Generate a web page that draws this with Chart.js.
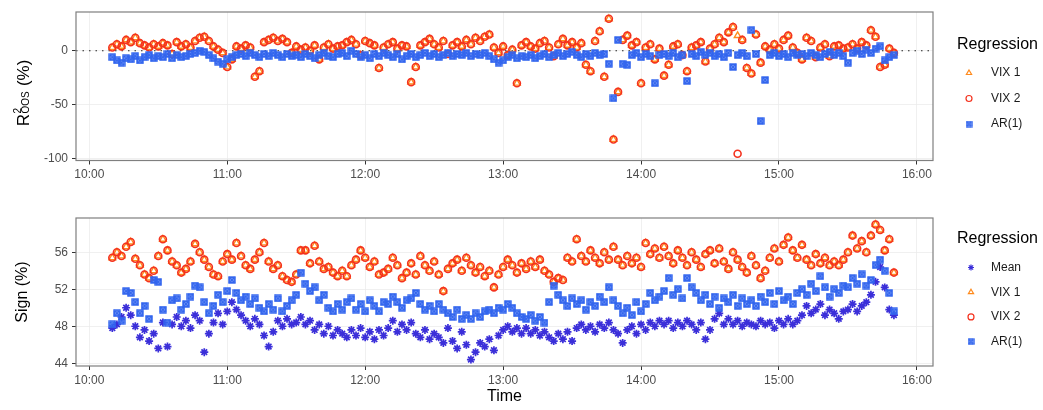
<!DOCTYPE html>
<html>
<head>
<meta charset="utf-8">
<script src="https://cdn.jsdelivr.net/npm/chart.js@4.4.1/dist/chart.umd.min.js"></script>
<style>
  html, body { margin: 0; padding: 0; background: #fff; }
  #wrap { position: relative; width: 1043px; height: 410px; }
  .panel { position: absolute; left: 0; }
  #top { top: 0; }
  #bottom { top: 200px; }
</style>
</head>
<body>
<div id="wrap">
  <div class="panel" id="top"><canvas id="r2-chart" width="1043" height="200"></canvas></div>
  <div class="panel" id="bottom"><canvas id="sign-chart" width="1043" height="210"></canvas></div>
</div>
<script>
// one observation every 2 minutes, 10:10 -> 15:50
const firstMinute = 10 * 60 + 10;
const minuteStep = 2;

const hourTicks = [600, 660, 720, 780, 840, 900, 960];
const hourLabels = ['10:00', '11:00', '12:00', '13:00', '14:00', '15:00', '16:00'];
const r2Ticks = [-100, -50, 0];
const signTicks = [44, 48, 52, 56];

// R2 OOS (%)
const r2Vix1 = [
  3, 6, 4, 10, 8, 12, 7, 5, 3, 6,
  4, 7, 5, -3, 8, 4, 6, 3, 9, 12,
  13, 9, 4, 1, -2, -15, -8, 4, 2, 5,
  3, -24, -19, 8, 10, 12, 9, 11, 8, -2,
  4, 1, 3, 0, 5, -8, 3, 6, 2, 4,
  5, 8, 10, 6, -4, 9, 7, 5, -16, 3,
  6, 8, 2, 5, 4, -29, -15, 5, 8, 11,
  6, 3, 9, -3, 5, 8, 4, 10, 6, 12,
  9, 13, 15, 3, -2, 4, -4, 1, -30, 5,
  8, 4, 2, 7, 9, 3, -5, 6, 11, 5,
  8, 3, 7, -13, -19, 9, 18, -24, 29.5, -82,
  -38, 10, 14, 5, 8, -30, 3, 6, -8, 2,
  -23, -13, 4, 6, -4, -19, 3, 5, 8, -10,
  2, 6, 12, 8, 17, 22, 14, 10, -16, -21,
  15, -11, 4, 1, 6, 2, 10, 14, 3, -2,
  -8, 12, 9, -6, 3, 6, -5, 4, 5, 2,
  3, 6, 2, 8, 5, 19, 13, -15, -13, 2,
  -2
];
const r2Vix2 = [
  3, 6, 4, 10, 8, 12, 7, 5, 3, 6,
  4, 7, 5, -3, 8, 4, 6, 3, 9, 12,
  13, 9, 4, 1, -2, -15, -8, 4, 2, 5,
  3, -24, -19, 8, 10, 12, 9, 11, 8, -2,
  4, 1, 3, 0, 5, -8, 3, 6, 2, 4,
  5, 8, 10, 6, -4, 9, 7, 5, -16, 3,
  6, 8, 2, 5, 4, -29, -15, 5, 8, 11,
  6, 3, 9, -3, 5, 8, 4, 10, 6, 12,
  9, 13, 15, 3, -2, 4, -4, 1, -30, 5,
  8, 4, 2, 7, 9, 3, -5, 6, 11, 5,
  8, 3, 7, -13, -19, 9, 18, -24, 29.5, -82,
  -38, 10, 14, 5, 8, -30, 3, 6, -8, 2,
  -23, -13, 4, 6, -4, -19, 3, 5, 8, -10,
  2, 6, 12, 8, 17, 22, -95.2, 10, -16, -21,
  15, -11, 4, 1, 6, 2, 10, 14, 3, -2,
  -8, 12, 9, -6, 3, 6, -5, 4, 5, 2,
  3, 6, 2, 8, 5, 19, 13, -15, -13, 2,
  -2
];
const r2Ar1 = [
  -6, -9, -11, -7, -8, -5, -9, -6, -4, -7,
  -5, -6, -3, -7, -4, -6, -5, -3, -2, 0,
  -1, -4, -7, -10, -12, -8, -6, -4, -3, -5,
  -2, -4, -6, -3, -5, -2, -4, -6, -3, -5,
  -4, -6, -3, -5, -7, -4, -2, -5, -6, -3,
  -2, -5, 0, -3, -6, -4, -7, -3, -5, -2,
  -4, -6, -3, -8, -5, -3, -6, -4, -2, -5,
  -3, -6, -4, -2, -5, -3, -4, -2, -5, -3,
  -4, -2, -5, -8, -11, -9, -6, -4, -7, -5,
  -6, -4, -7, -5, -3, -6, -4, -2, -5, -3,
  -1, -4, -6, -3, -5, -2, -4, -3, -12, -44,
  10, -12, -13, -4, -2, -6, -3, -5, -30, -4,
  -3, -5, -2, -6, -4, -28, -3, -5, -1, -4,
  -2, -5, -3, -6, -2, -15, -4, -2, -5, 19,
  -3, -65, -27, -4, -2, -5, -3, -6, -2, -4,
  -3, -5, -2, -4, -6, -3, -1, -4, -2, -5,
  -11, -2, 0, -3, 1, -2, 2, 4, -9, -6,
  -4
];

// Sign (%)
const signMean = [
  47.8, 48.2, 49.0, 50.0, 49.2, 48.0, 46.8, 47.6, 46.4, 47.2,
  45.6, 48.4, 45.8, 48.2, 49.0, 48.0, 48.6, 47.8, 49.2, 48.6,
  45.2, 47.2, 48.4, 49.4, 48.2, 49.6, 50.6, 49.8, 49.2, 48.6,
  48.0, 48.8, 48.2, 47.0, 45.8, 47.4, 48.6, 48.0, 48.8, 48.2,
  48.4, 49.0, 48.2, 48.6, 47.6, 48.2, 47.2, 48.0, 47.0, 47.6,
  47.2, 46.8, 47.6, 47.0, 47.8, 46.8, 47.4, 46.6, 47.6, 47.0,
  47.8, 48.6, 47.4, 48.2, 47.6, 48.4, 47.2, 46.8, 47.6, 46.6,
  47.2, 46.8, 46.2, 47.8, 46.4, 45.6, 47.4, 46.0, 44.4, 45.2,
  46.2, 45.8, 46.6, 45.4, 47.0, 47.6, 48.0, 47.4, 47.8, 47.2,
  47.8, 47.2, 47.6, 47.0, 47.4, 46.8, 46.4, 47.2, 46.6, 47.4,
  46.4, 47.8, 48.2, 47.6, 48.0, 47.4, 48.2, 47.8, 48.4, 47.6,
  47.2, 46.2, 47.6, 48.0, 47.2, 48.2, 47.6, 48.4, 48.0, 48.6,
  48.2, 48.6, 47.8, 48.4, 48.0, 48.6, 48.2, 47.6, 48.4, 46.6,
  47.6, 48.8, 49.4, 48.2, 48.8, 48.2, 48.6, 48.0, 48.4, 48.2,
  48.0, 48.6, 48.2, 48.4, 47.8, 48.6, 48.2, 48.8, 48.2, 48.6,
  49.2, 50.2, 49.4, 49.8, 50.4, 49.2, 49.8, 49.4, 48.8, 49.6,
  49.8, 50.4, 49.6, 50.2, 50.6, 51.4, 52.8, 54.4, 52.2, 49.8,
  49.2
];
const signVix1 = [
  55.4, 56.0, 55.6, 56.6, 57.1, 55.3, 54.6, 53.6, 53.2, 54.0,
  55.6, 57.4, 56.2, 55.0, 54.6, 53.8, 54.2, 55.0, 56.9, 56.0,
  55.2, 54.4, 53.6, 53.4, 55.0, 55.8, 55.2, 57.0, 55.6, 54.6,
  54.2, 55.2, 56.0, 57.0, 55.0, 54.2, 54.6, 53.4, 53.0, 52.8,
  53.6, 56.2, 56.2, 54.8, 56.7, 55.0, 54.2, 54.4, 53.8, 53.4,
  54.0, 53.4, 54.6, 55.2, 56.2, 55.4, 54.4, 55.0, 53.6, 53.8,
  54.2, 55.4, 54.6, 53.2, 53.8, 54.8, 53.6, 55.6, 54.6, 54.0,
  55.0, 53.6, 51.8, 54.2, 54.8, 55.2, 54.0, 55.4, 54.6, 53.8,
  54.4, 53.4, 54.0, 52.2, 53.6, 54.4, 55.2, 54.6, 53.8, 54.8,
  54.2, 55.0, 54.4, 55.2, 54.0, 53.6, 52.8, 53.2, 53.0, 55.4,
  55.0, 57.4, 55.6, 55.0, 56.2, 55.4, 54.8, 56.0, 55.2, 56.6,
  55.2, 54.6, 55.6, 54.8, 55.4, 54.4, 57.0, 55.8, 56.4, 55.4,
  56.6, 55.6, 54.8, 56.2, 55.4, 54.6, 56.0, 55.2, 54.4, 55.8,
  56.2, 54.8, 56.4, 55.0, 54.2, 56.0, 55.2, 54.4, 53.8, 55.6,
  54.6, 53.2, 54.0, 55.4, 56.4, 55.0, 56.8, 57.6, 56.2, 55.4,
  56.8, 55.2, 54.6, 55.8, 54.8, 55.4, 54.6, 55.0, 54.6, 55.2,
  56.0, 57.8, 56.4, 57.2, 56.0, 57.8, 59.0, 58.4, 56.2, 57.4,
  53.8
];
const signVix2 = [
  55.4, 56.0, 55.6, 56.6, 57.1, 55.3, 54.6, 53.6, 53.2, 54.0,
  55.6, 57.4, 56.2, 55.0, 54.6, 53.8, 54.2, 55.0, 56.9, 56.0,
  55.2, 54.4, 53.6, 53.4, 55.0, 55.8, 55.2, 57.0, 55.6, 54.6,
  54.2, 55.2, 56.0, 57.0, 55.0, 54.2, 54.6, 53.4, 53.0, 52.8,
  53.6, 56.2, 56.2, 54.8, 56.7, 55.0, 54.2, 54.4, 53.8, 53.4,
  54.0, 53.4, 54.6, 55.2, 56.2, 55.4, 54.4, 55.0, 53.6, 53.8,
  54.2, 55.4, 54.6, 53.2, 53.8, 54.8, 53.6, 55.6, 54.6, 54.0,
  55.0, 53.6, 51.8, 54.2, 54.8, 55.2, 54.0, 55.4, 54.6, 53.8,
  54.4, 53.4, 54.0, 52.2, 53.6, 54.4, 55.2, 54.6, 53.8, 54.8,
  54.2, 55.0, 54.4, 55.2, 54.0, 53.6, 52.8, 53.2, 53.0, 55.4,
  55.0, 57.4, 55.6, 55.0, 56.2, 55.4, 54.8, 56.0, 55.2, 56.6,
  55.2, 54.6, 55.6, 54.8, 55.4, 54.4, 57.0, 55.8, 56.4, 55.4,
  56.6, 55.6, 54.8, 56.2, 55.4, 54.6, 56.0, 55.2, 54.4, 55.8,
  56.2, 54.8, 56.4, 55.0, 54.2, 56.0, 55.2, 54.4, 53.8, 55.6,
  54.6, 53.2, 54.0, 55.4, 56.4, 55.0, 56.8, 57.6, 56.2, 55.4,
  56.8, 55.2, 54.6, 55.8, 54.8, 55.4, 54.6, 55.0, 54.6, 55.2,
  56.0, 57.8, 56.4, 57.2, 56.0, 57.8, 59.0, 58.4, 56.2, 57.4,
  53.8
];
const signAr1 = [
  48.2, 49.4, 48.6, 51.8, 51.6, 50.6, 49.4, 50.2, 48.8, 53.0,
  52.8, 49.8, 48.4, 50.8, 51.0, 49.8, 50.4, 51.2, 52.4, 52.2,
  50.6, 49.4, 50.2, 51.4, 50.6, 51.8, 53.0, 51.6, 50.8, 51.2,
  50.4, 51.0, 50.0, 49.6, 50.4, 49.8, 51.0, 49.6, 50.2, 50.8,
  51.4, 53.8, 52.6, 51.8, 52.2, 50.8, 51.4, 50.0, 49.6, 50.4,
  49.8, 50.6, 51.0, 49.8, 50.4, 49.6, 50.8, 50.2, 49.6, 50.6,
  50.4, 51.2, 50.6, 50.0, 50.8, 51.0, 51.6, 50.4, 49.8, 50.2,
  49.6, 50.4, 49.8, 49.4, 49.0, 49.8, 48.8, 49.2, 48.8, 49.4,
  49.0, 49.6, 49.8, 49.4, 50.0, 49.8, 50.4, 50.0, 49.4, 49.0,
  48.8, 49.2, 48.6, 49.0, 48.4, 50.6, 52.4, 51.4, 50.8, 50.2,
  51.0, 50.4, 50.8, 49.8, 50.6, 50.2, 51.2, 50.6, 52.2, 50.8,
  50.2, 49.4, 50.0, 49.2, 50.6, 49.6, 50.4, 51.6, 50.8, 51.2,
  51.8, 53.2, 51.4, 52.0, 51.0, 53.2, 52.2, 51.6, 50.8, 51.4,
  50.4, 51.2, 50.0, 51.0, 50.6, 51.4, 50.2, 51.0, 50.4, 50.8,
  50.2, 51.2, 50.6, 51.6, 50.4, 51.8, 50.8, 51.2, 50.4, 51.6,
  52.0, 51.4, 52.6, 51.8, 53.4, 52.2, 51.2, 52.0, 51.6, 52.4,
  52.2, 53.2, 52.6, 53.6, 52.4, 53.0, 54.6, 55.2, 54.0, 51.6,
  49.6
];

const FONT = '"Liberation Sans", Arial, sans-serif';
const COLORS = { mean: '#3b2fd9', vix1: '#ff8a1c', vix2: '#f4321e', ar1: '#3366ee' };
const X_MIN = 594.2, X_MAX = 967;

Chart.defaults.font.family = FONT;

function squareCross(color, size, lw) {
  // ggplot shape 7: square with a cross in it
  const c = document.createElement('canvas');
  c.width = size; c.height = size;
  const g = c.getContext('2d');
  const a = lw / 2 + 0.3, b = size - a;
  g.strokeStyle = color;
  g.lineWidth = lw;
  g.strokeRect(a, a, b - a, b - a);
  g.beginPath();
  g.moveTo(a, a); g.lineTo(b, b);
  g.moveTo(b, a); g.lineTo(a, b);
  g.stroke();
  return c;
}

function toPoints(values) {
  return values.map((v, i) => ({ x: firstMinute + i * minuteStep, y: v }));
}

function series(label, values, style) {
  return Object.assign({
    label: label,
    data: toPoints(values),
    showLine: false,
    pointBackgroundColor: 'rgba(0,0,0,0)',
    pointHoverRadius: 0
  }, style);
}

const meanStyle = { pointStyle: 'star', pointRadius: 4, pointBorderWidth: 1.7, pointBorderColor: COLORS.mean, order: 4 };
const vix1Style = { pointStyle: 'triangle', pointRadius: 3.8, pointBorderWidth: 1.4, pointBorderColor: COLORS.vix1, order: 3 };
const vix2Style = { pointStyle: 'circle', pointRadius: 3.5, pointBorderWidth: 1.6, pointBorderColor: COLORS.vix2, order: 2 };
const ar1Style = { pointStyle: squareCross(COLORS.ar1, 8, 1.8), pointRadius: 4, pointBorderWidth: 1.4, pointBorderColor: COLORS.ar1, order: 1 };
const ar1Legend = squareCross(COLORS.ar1, 7, 1.5);

// grey frame round the panel, like ggplot's panel.border
const panelFrame = {
  id: 'panelFrame',
  afterDatasetsDraw(chart) {
    const { ctx, chartArea: a } = chart;
    ctx.save();
    ctx.strokeStyle = '#7f7f7f';
    ctx.lineWidth = 1.2;
    ctx.strokeRect(a.left, a.top, a.right - a.left, a.bottom - a.top);
    ctx.restore();
  }
};

// legend on the right, drawn with the dataset marker styles
const sideLegend = {
  id: 'sideLegend',
  afterDraw(chart, args, opts) {
    const ctx = chart.ctx;
    ctx.save();
    ctx.textBaseline = 'middle';
    ctx.fillStyle = '#000';
    ctx.font = '16px ' + FONT;
    ctx.fillText('Regression', opts.x, opts.titleY);
    ctx.font = '12px ' + FONT;
    let y = opts.firstY;
    chart.data.datasets.forEach(ds => {
      if (ds.type === 'line') return;
      const style = ds.label === 'AR(1)' ? ar1Legend : ds.pointStyle;
      ctx.strokeStyle = ds.pointBorderColor;
      ctx.fillStyle = 'rgba(0,0,0,0)';
      ctx.lineWidth = 1.2;
      Chart.helpers.drawPoint(ctx, {
        pointStyle: style,
        radius: opts.markerRadius,
        borderWidth: 1.2,
        rotation: 0
      }, opts.markerX, y);
      ctx.fillStyle = '#1a1a1a';
      ctx.fillText(ds.label, opts.textX, y);
      y += opts.step;
    });
    ctx.restore();
  }
};

// R^2_OOS (%) with stacked super/subscript
const r2Title = {
  id: 'r2Title',
  afterDraw(chart) {
    const ctx = chart.ctx;
    ctx.save();
    ctx.translate(22.5, 93);
    ctx.rotate(-Math.PI / 2);
    ctx.fillStyle = '#000';
    ctx.textBaseline = 'alphabetic';
    ctx.font = '17px ' + FONT;
    const wR = ctx.measureText('R').width;
    const wRest = ctx.measureText(' (%)').width;
    ctx.font = '10px ' + FONT;
    const wSub = ctx.measureText('OOS').width;
    let u = -(wR + wSub + 1 + wRest) / 2;
    ctx.font = '17px ' + FONT;
    ctx.fillText('R', u, 6);
    u += wR + 0.5;
    ctx.font = '10px ' + FONT;
    ctx.fillText('2', u, -2);
    ctx.fillText('OOS', u, 6.5);
    u += wSub + 0.5;
    ctx.font = '17px ' + FONT;
    ctx.fillText(' (%)', u, 6);
    ctx.restore();
  }
};

function xScale(height, withTitle) {
  return {
    type: 'linear',
    min: X_MIN,
    max: X_MAX,
    afterBuildTicks: s => { s.ticks = hourTicks.map(v => ({ value: v })); },
    afterFit: s => { s.height = height; },
    ticks: {
      callback: v => hourLabels[hourTicks.indexOf(v)],
      color: '#4d4d4d',
      font: { size: 12 },
      padding: 3,
      maxRotation: 0,
      autoSkip: false
    },
    grid: { color: '#ececec', lineWidth: 0.8, tickColor: '#333', tickLength: 4, tickWidth: 1 },
    border: { display: false },
    title: {
      display: withTitle,
      text: 'Time',
      color: '#000',
      font: { size: 16 },
      padding: { top: 0, bottom: 4 }
    }
  };
}

function yScale(min, max, ticks, title) {
  return {
    min: min,
    max: max,
    afterBuildTicks: s => { s.ticks = ticks.map(v => ({ value: v })); },
    afterFit: s => { s.width = 76; },
    ticks: { color: '#4d4d4d', font: { size: 12 }, padding: 4 },
    grid: { color: '#ececec', lineWidth: 0.8, tickColor: '#333', tickLength: 4, tickWidth: 1 },
    border: { display: false },
    title: {
      display: !!title,
      text: title || '',
      color: '#000',
      font: { size: 16 },
      padding: { top: 13, bottom: 0 }
    }
  };
}

function baseOptions() {
  return {
    responsive: false,
    animation: false,
    events: [],
    plugins: { legend: { display: false }, tooltip: { enabled: false } }
  };
}

// top panel
const topOpts = baseOptions();
topOpts.layout = { padding: { top: 12, right: 110, bottom: 0, left: 0 } };
topOpts.scales = { x: xScale(39.5, false), y: yScale(-101.4, 35.8, r2Ticks, null) };
topOpts.plugins.sideLegend = { x: 957, titleY: 45, firstY: 73, step: 25.5, markerX: 969, textX: 991, markerRadius: 3 };

new Chart(document.getElementById('r2-chart'), {
  type: 'scatter',
  data: {
    datasets: [
      series('VIX 1', r2Vix1, vix1Style),
      series('VIX 2', r2Vix2, vix2Style),
      series('AR(1)', r2Ar1, ar1Style),
      {
        type: 'line',
        label: 'zero',
        data: [{ x: X_MIN, y: 0 }, { x: X_MAX, y: 0 }],
        borderColor: '#222',
        borderWidth: 1.2,
        borderDash: [1.5, 5],
        pointRadius: 0,
        order: 10
      }
    ]
  },
  options: topOpts,
  plugins: [panelFrame, sideLegend, r2Title]
});

// bottom panel
const bottomOpts = baseOptions();
bottomOpts.layout = { padding: { top: 18, right: 110, bottom: 0, left: 0 } };
bottomOpts.scales = { x: xScale(44, true), y: yScale(43.7, 59.7, signTicks, 'Sign (%)') };
bottomOpts.plugins.sideLegend = { x: 957, titleY: 39, firstY: 67.5, step: 24.7, markerX: 971, textX: 991, markerRadius: 3 };

new Chart(document.getElementById('sign-chart'), {
  type: 'scatter',
  data: {
    datasets: [
      series('Mean', signMean, meanStyle),
      series('VIX 1', signVix1, vix1Style),
      series('VIX 2', signVix2, vix2Style),
      series('AR(1)', signAr1, ar1Style)
    ]
  },
  options: bottomOpts,
  plugins: [panelFrame, sideLegend]
});
</script>
</body>
</html>
